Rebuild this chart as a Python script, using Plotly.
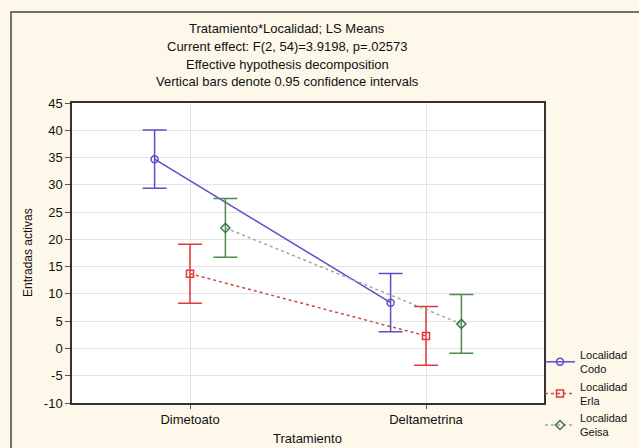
import plotly.graph_objects as go

categories = ["Dimetoato", "Deltametrina"]
series_names = ["Localidad<br>Codo", "Localidad<br>Erla", "Localidad<br>Geisa"]
codo_means = [34.7, 8.4]
erla_means = [13.7, 2.3]
geisa_means = [22.1, 4.5]
codo_ci = [5.35, 5.35]
erla_ci = [5.4, 5.4]
geisa_ci = [5.4, 5.4]
y_ticks = list(range(-10, 50, 5))
y_tick_labels = [str(v) for v in y_ticks]

title_lines = [
    "Tratamiento*Localidad; LS Means",
    "Current effect: F(2, 54)=3.9198, p=.02573",
    "Effective hypothesis decomposition",
    "Vertical bars denote 0.95 confidence intervals",
]

styles = [
    dict(color="#5a50c8", dash="solid", symbol="circle-open", mcolor="#5a50c8", lcolor="#5a50c8"),
    dict(color="#e03a3a", dash="dot", symbol="square-open", mcolor="#e03a3a", lcolor="#d04848"),
    dict(color="#4f8a4f", dash="dot", symbol="diamond-open", mcolor="#3f7a3f", lcolor="#a0a8a0"),
]
offsets = [-0.15, 0.0, 0.15]
all_means = [codo_means, erla_means, geisa_means]
all_ci = [codo_ci, erla_ci, geisa_ci]

FONT = "Liberation Sans, Arial"

fig = go.Figure()
for name, means, ci, st, off in zip(series_names, all_means, all_ci, styles, offsets):
    xs = [i + off for i in range(len(categories))]
    fig.add_trace(go.Scatter(
        x=xs, y=means, name=name, mode="lines+markers",
        line=dict(color=st["lcolor"], width=1.5, dash=st["dash"]),
        marker=dict(symbol=st["symbol"], size=7, color=st["mcolor"],
                    line=dict(width=1.5, color=st["mcolor"])),
        error_y=dict(type="data", array=ci, visible=True, color=st["color"],
                     thickness=1.5, width=12),
    ))

annotations = []
for k, txt in enumerate(title_lines):
    annotations.append(dict(text=txt, xref="paper", yref="paper",
                            x=(287 - 72) / 472.0, y=(403 - (28 + 18 * k)) / 300.0,
                            showarrow=False, xanchor="center", yanchor="middle",
                            font=dict(size=13, color="#111", family=FONT)))
annotations.append(dict(text="Entradas activas", xref="paper", yref="paper",
                        x=(28 - 72) / 472.0, y=0.5, textangle=-90, showarrow=False,
                        xanchor="center", yanchor="middle",
                        font=dict(size=12, color="#111", family=FONT)))
annotations.append(dict(text="Tratamiento", xref="paper", yref="paper",
                        x=(307 - 72) / 472.0, y=(403 - 438) / 300.0, showarrow=False,
                        xanchor="center", yanchor="middle",
                        font=dict(size=13, color="#111", family=FONT)))

fig.update_layout(
    width=639, height=448,
    margin=dict(l=72, r=95, t=103, b=45, autoexpand=False),
    paper_bgcolor="#fdf8ea",
    plot_bgcolor="#ffffff",
    font=dict(family=FONT, size=12, color="#111"),
    showlegend=True,
    legend=dict(x=(540 - 72) / 472.0, y=(403 - 341) / 300.0, xanchor="left", yanchor="top",
                bgcolor="rgba(0,0,0,0)", font=dict(size=11, color="#111", family=FONT),
                tracegroupgap=0, itemwidth=30),
    annotations=annotations,
    shapes=[dict(type="rect", xref="paper", yref="paper",
                 x0=(11 - 72) / 472.0, x1=2.0, y0=-1.0, y1=(403 - 12) / 300.0,
                 line=dict(color="#444", width=1.5), layer="below")],
)
fig.update_xaxes(
    range=[-0.5, 1.5], tickvals=[0, 1], ticktext=categories,
    showgrid=True, gridcolor="#e3e3e3", gridwidth=1,
    showline=True, linecolor="#333", linewidth=1.5, mirror=True,
    ticks="outside", ticklen=4, tickcolor="#555", zeroline=False,
    tickfont=dict(size=13),
)
fig.update_yaxes(
    range=[-10, 45], tickvals=y_ticks, ticktext=y_tick_labels,
    showgrid=True, gridcolor="#e3e3e3", gridwidth=1,
    showline=True, linecolor="#333", linewidth=1.5, mirror=True,
    ticks="outside", ticklen=5, tickcolor="#555", zeroline=False,
    tickfont=dict(size=13),
)

fig.write_html("out.html")
